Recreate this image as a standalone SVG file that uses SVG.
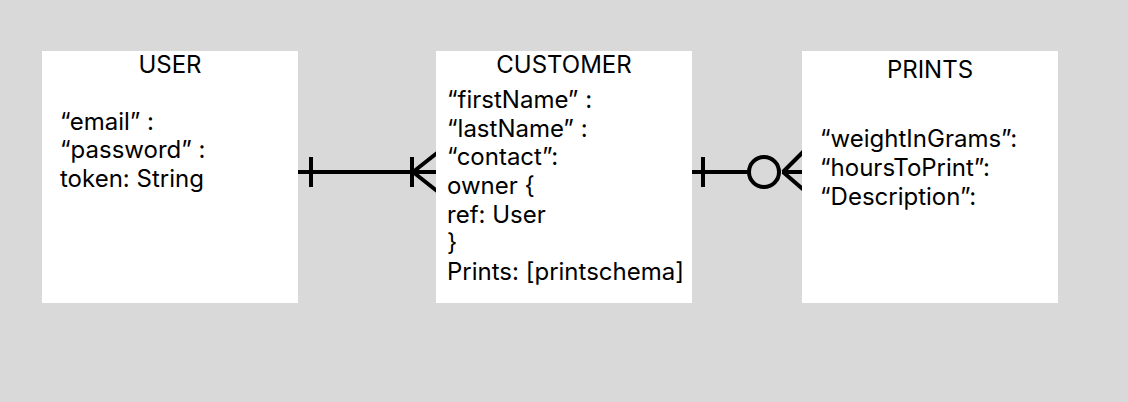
<svg xmlns="http://www.w3.org/2000/svg" width="1128" height="402" viewBox="0 0 1128 402">
<style>
.box{fill:#ffffff;stroke:none}
.t{font-family:Inter,"Liberation Sans",sans-serif;font-size:24px;fill:#000}
.c{text-anchor:middle}
.ln{stroke:#000;stroke-width:4;fill:none}
</style>
<rect width="1128" height="402" fill="#d9d9d9"/>
<g id="connectors">
<g id="user-customer">
<line class="ln" x1="298" y1="172" x2="436" y2="172"/>
<line class="ln" x1="311" y1="157" x2="311" y2="187"/>
<line class="ln" x1="412" y1="157" x2="412" y2="187"/>
<line class="ln" x1="413" y1="172" x2="437" y2="153"/>
<line class="ln" x1="413" y1="172" x2="437" y2="191"/>
</g>
<g id="customer-prints">
<line class="ln" x1="692" y1="172" x2="748" y2="172"/>
<line class="ln" x1="782" y1="172" x2="802" y2="172"/>
<line class="ln" x1="703" y1="157" x2="703" y2="187"/>
<circle class="ln" cx="764" cy="172" r="15"/>
<line class="ln" x1="783" y1="172" x2="805" y2="150"/>
<line class="ln" x1="783" y1="172" x2="805" y2="191"/>
</g>
</g>
<g id="user">
<rect class="box" x="42" y="51" width="256" height="252"/>
<text class="t c" x="170" y="73">USER</text>
<text class="t" x="60" y="130">“email” :</text>
<text class="t" x="60" y="158">“password” :</text>
<text class="t" x="60" y="187">token: String</text>
</g>
<g id="customer">
<rect class="box" x="436" y="51" width="256" height="252"/>
<text class="t c" x="564" y="73">CUSTOMER</text>
<text class="t" x="447" y="108">“firstName” :</text>
<text class="t" x="447" y="137">“lastName” :</text>
<text class="t" x="447" y="165">“contact”:</text>
<text class="t" x="447" y="194">owner {</text>
<text class="t" x="447" y="223">ref: User</text>
<text class="t" x="447" y="251">}</text>
<text class="t" x="447" y="280">Prints: [printschema]</text>
</g>
<g id="prints">
<rect class="box" x="802" y="51" width="256" height="252"/>
<text class="t c" x="930" y="78">PRINTS</text>
<text class="t" x="820" y="147">“weightInGrams”:</text>
<text class="t" x="820" y="176">“hoursToPrint”:</text>
<text class="t" x="820" y="205">“Description”:</text>
</g>
</svg>
